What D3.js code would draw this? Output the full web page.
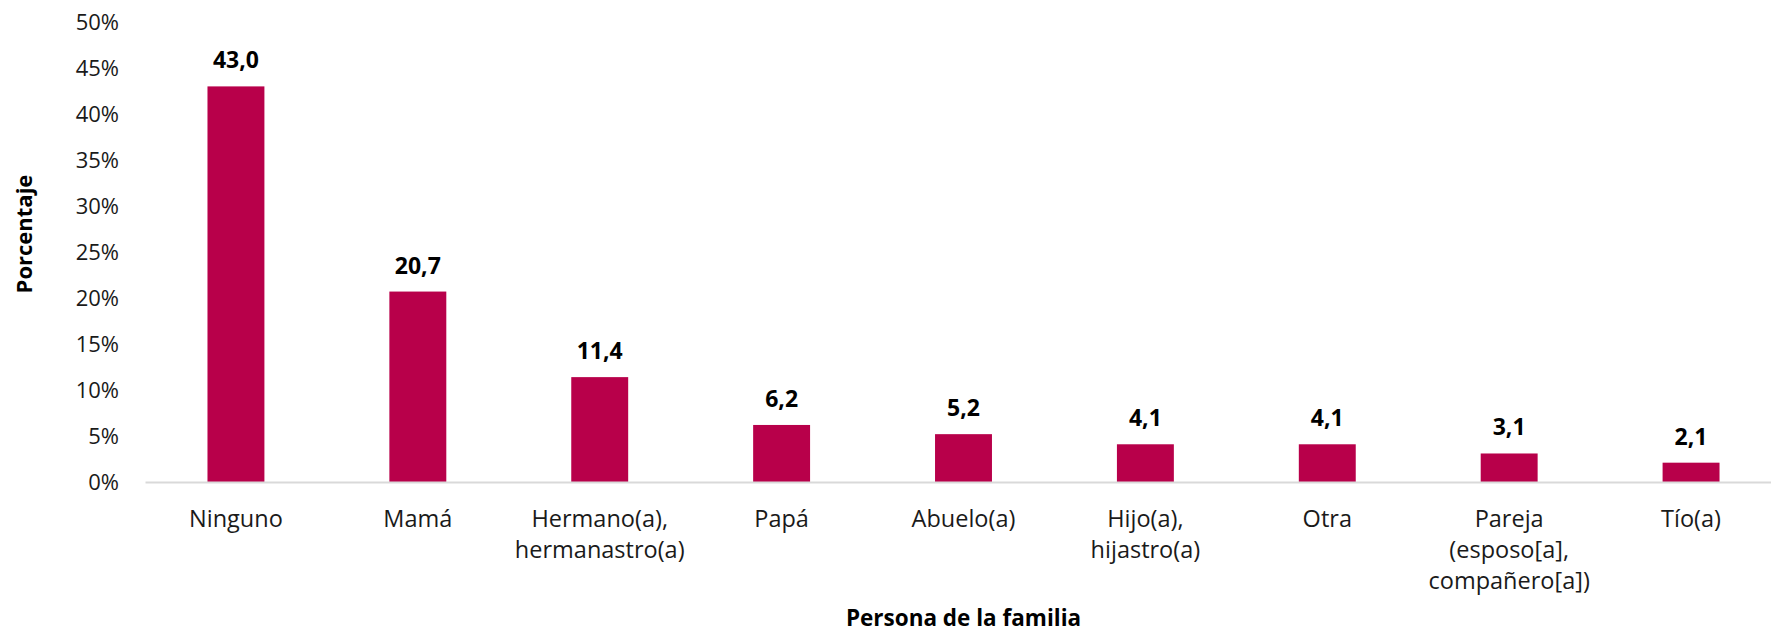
<!DOCTYPE html>
<html>
<head>
<meta charset="utf-8">
<script src="https://cdn.jsdelivr.net/npm/d3@7"></script>
<style>
  html, body { margin: 0; padding: 0; background: #ffffff; }
  svg { display: block; font-family: "Open Sans", "Noto Sans", sans-serif; }
</style>
</head>
<body>
<svg id="chart" width="1771" height="633"></svg>
<script>
const categories = [
  "Ninguno",
  "Mamá",
  "Hermano(a),\nhermanastro(a)",
  "Papá",
  "Abuelo(a)",
  "Hijo(a),\nhijastro(a)",
  "Otra",
  "Pareja\n(esposo[a],\ncompañero[a])",
  "Tío(a)"
];
const values = [43.0, 20.7, 11.4, 6.2, 5.2, 4.1, 4.1, 3.1, 2.1];
const yTicks = [0, 5, 10, 15, 20, 25, 30, 35, 40, 45, 50];
const yTitle = "Porcentaje";
const xTitle = "Persona de la familia";

const svg = d3.select("#chart");
const plotLeft = 145, plotRight = 1782, plotTop = 22, plotBottom = 482;

const x = d3.scaleBand().domain(categories).range([plotLeft, plotRight])
  .paddingInner(0.687).paddingOuter(0.3435);
const y = d3.scaleLinear().domain([0, 50]).range([plotBottom, plotTop]);

// Y axis (labels only)
const yAxis = svg.append("g").attr("transform", `translate(${plotLeft},0)`)
  .call(d3.axisLeft(y).tickValues(yTicks).tickSize(0).tickPadding(26).tickFormat(d => d + "%"));
yAxis.select(".domain").remove();
yAxis.selectAll("text").attr("font-size", 22).attr("fill", "#1a1a1a")
  .attr("font-family", "'Open Sans', sans-serif");

// Bars
svg.append("g").selectAll("rect").data(values).join("rect")
  .attr("x", (d, i) => x(categories[i]))
  .attr("width", x.bandwidth())
  .attr("y", d => y(d))
  .attr("height", d => y(0) - y(d))
  .attr("fill", "#B8004A");

// X axis
const xAxis = svg.append("g").attr("transform", `translate(0,${plotBottom})`)
  .call(d3.axisBottom(x).tickSize(0).tickPadding(0));
xAxis.select(".domain").attr("stroke", "#d9d9d9").attr("stroke-width", 2);
xAxis.selectAll(".tick text").each(function(d) {
  const t = d3.select(this);
  t.text(null).attr("y", 0).attr("dy", null)
    .attr("font-size", 23.5).attr("fill", "#1a1a1a")
    .attr("font-family", "'Open Sans', sans-serif");
  d.split("\n").forEach((line, k) => {
    t.append("tspan").attr("x", 0).attr("y", 45 + k * 31).text(line);
  });
});

// Value labels
svg.append("g").selectAll("text").data(values).join("text")
  .attr("x", (d, i) => x(categories[i]) + x.bandwidth() / 2)
  .attr("y", d => y(d) - 18)
  .attr("text-anchor", "middle")
  .attr("font-size", 23).attr("font-weight", "bold").attr("fill", "#000")
  .text(d => d.toFixed(1).replace(".", ","));

// Axis titles
svg.append("text")
  .attr("transform", "translate(32,234) rotate(-90)")
  .attr("text-anchor", "middle")
  .attr("font-size", 22).attr("font-weight", "bold").attr("fill", "#000")
  .text(yTitle);

svg.append("text")
  .attr("x", (plotLeft + plotRight) / 2).attr("y", 626)
  .attr("text-anchor", "middle")
  .attr("font-size", 22.5).attr("font-weight", "bold").attr("fill", "#000")
  .text(xTitle);
</script>
</body>
</html>
